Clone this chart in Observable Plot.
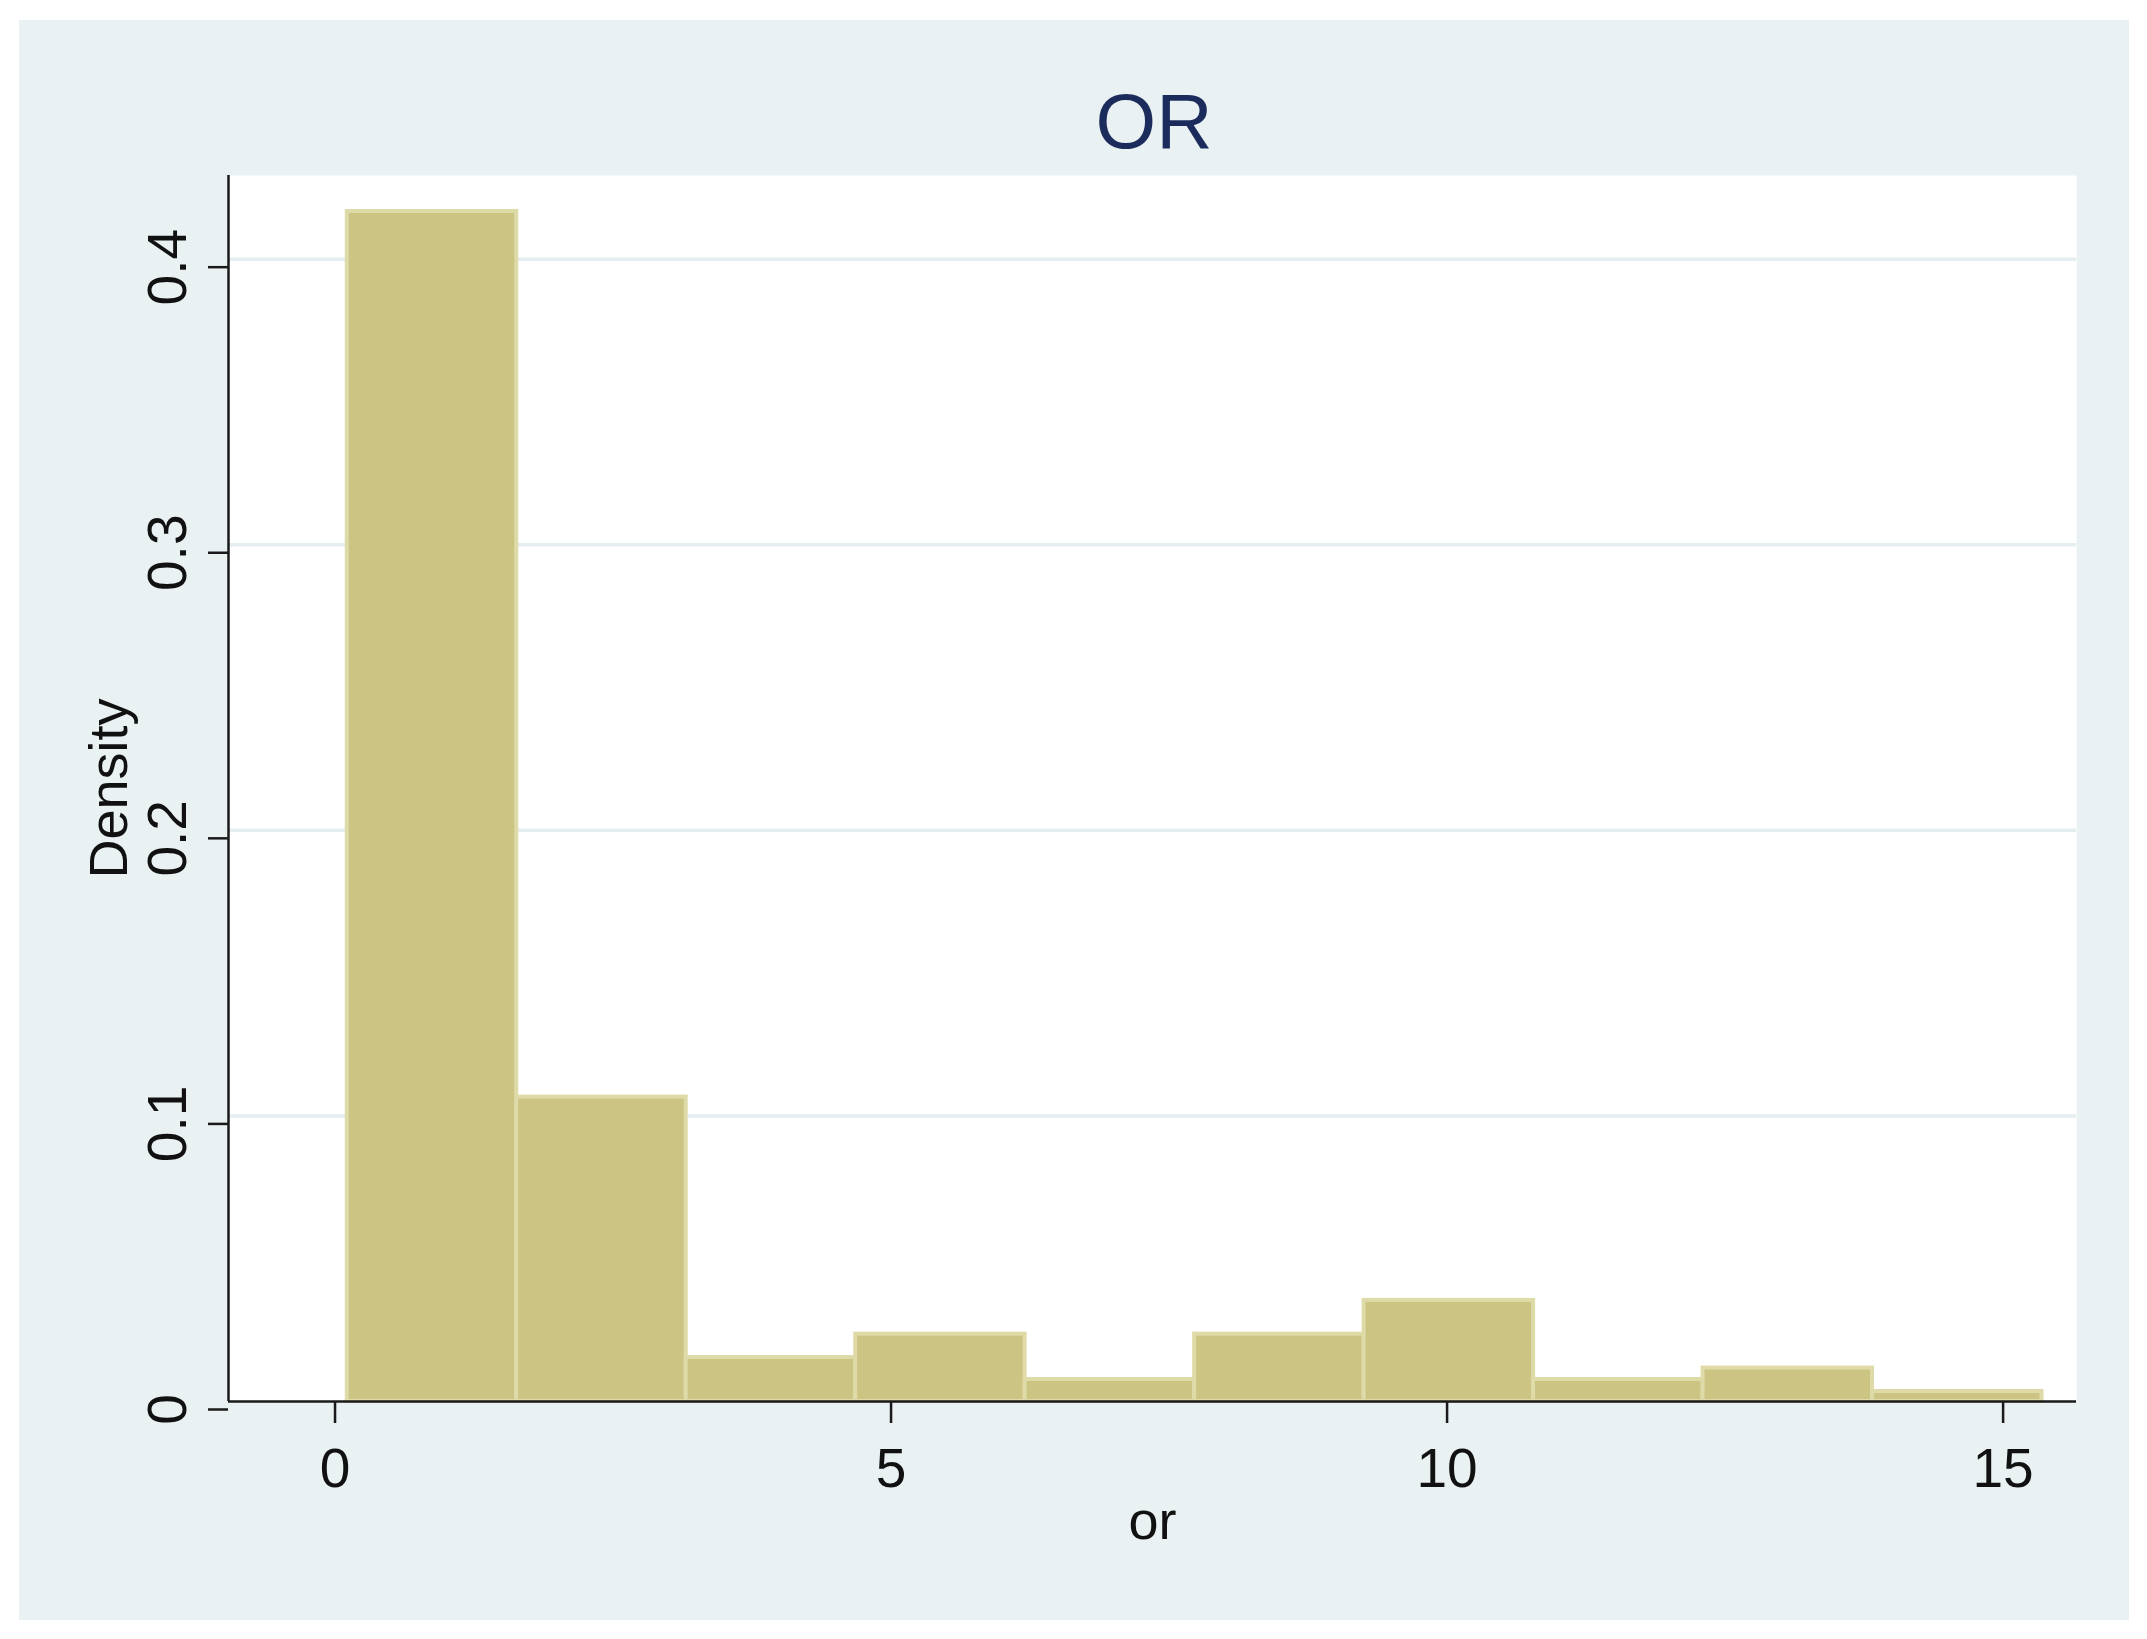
<!DOCTYPE html>
<html>
<head>
<meta charset="utf-8">
<script src="https://cdn.jsdelivr.net/npm/d3@7"></script>
<script src="https://cdn.jsdelivr.net/npm/@observablehq/plot@0.6"></script>
<style>
  html, body { margin: 0; padding: 0; background: #ffffff; }
  #panel { position: absolute; left: 19px; top: 20px; width: 2110px; height: 1600px; background: #E9F1F3; }
  #title { position: absolute; left: 0; top: 62.8px; width: 2110px; text-align: center;
           font-family: "Liberation Sans", Arial, sans-serif; font-size: 78px; line-height: 77px; color: #1B2C5C; }
  #title span { position: relative; left: 80px; }
  #chart { position: absolute; left: 0; top: 140px; }
  #chart svg { display: block; }
</style>
</head>
<body>
<div id="panel">
  <div id="title"><span>OR</span></div>
  <div id="chart"></div>
</div>
<script>
// Histogram bin edges (values of "or") and densities
const binStart = [0.11, 1.634, 3.158, 4.682, 6.206, 7.73, 9.254, 10.778, 12.302, 13.826];
const binEnd   = [1.634, 3.158, 4.682, 6.206, 7.73, 9.254, 10.778, 12.302, 13.826, 15.35];
const density  = [0.4167, 0.1066, 0.0154, 0.0236, 0.0077, 0.0236, 0.0354, 0.0077, 0.0117, 0.0035];
const xTicks = [0, 5, 10, 15];
const yTicks = [0, 0.1, 0.2, 0.3, 0.4];
const yGrid = [0.1, 0.2, 0.3, 0.4];
const xLabel = "or";
const yLabel = "Density";

const bins = binStart.map((s, i) => ({x1: s, x2: binEnd[i], y: density[i]}));

const font = "Liberation Sans, Arial, sans-serif";
const chart = Plot.plot({
  width: 2110,
  height: 1460,
  marginLeft: 209,
  marginRight: 53,
  marginTop: 15,
  marginBottom: 219,
  style: {fontFamily: font, background: "transparent", color: "#111"},
  x: {domain: [-0.958, 15.66], axis: null},
  y: {domain: [0, 0.4293], axis: null},
  marks: [
    Plot.frame({fill: "white", stroke: null}),
    Plot.gridY(yGrid, {stroke: "#E4EEF0", strokeOpacity: 1, strokeWidth: 3.5}),
    Plot.rectY(bins, {x1: "x1", x2: "x2", y: "y", fill: "#CBC482", stroke: "#DFDBA9", strokeWidth: 4}),
    Plot.ruleY([0], {stroke: "#1a1a1a", strokeWidth: 2.5}),
    Plot.ruleX([-0.958], {stroke: "#1a1a1a", strokeWidth: 2.5}),
    Plot.axisX({ticks: xTicks, tickSize: 22, tickPadding: 24, fontSize: 55, label: null,
                stroke: "#1a1a1a", strokeWidth: 2.5, tickFormat: d => String(d)}),
    Plot.axisY({ticks: yTicks, tickSize: 20, tickPadding: 23, tickRotate: -90, fontSize: 55, label: null,
                stroke: "#1a1a1a", strokeWidth: 2.5, dy: 8, tickFormat: d => String(d)}),
    Plot.text([xLabel], {frameAnchor: "bottom", text: d => d, lineAnchor: "bottom", dy: 137, fontSize: 54, fill: "#111"}),
    Plot.text([yLabel], {frameAnchor: "left", text: d => d, rotate: -90, textAnchor: "middle", lineAnchor: "top", dx: -140, fontSize: 54, fill: "#111"})
  ]
});
document.getElementById("chart").appendChild(chart);
</script>
</body>
</html>
